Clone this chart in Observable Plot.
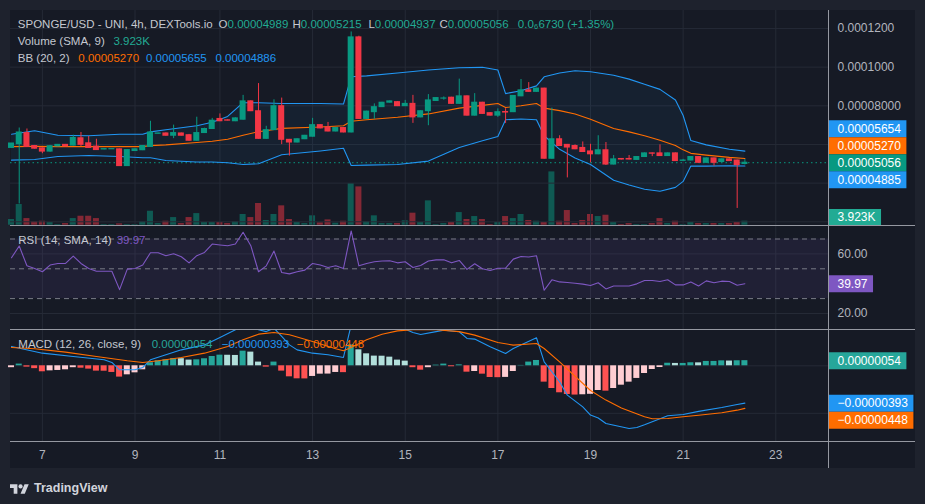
<!DOCTYPE html>
<html><head><meta charset="utf-8">
<script src="https://cdn.jsdelivr.net/npm/d3@7"></script>
<script src="https://cdn.jsdelivr.net/npm/@observablehq/plot@0.6"></script>
<style>
html,body{margin:0;padding:0;background:#1e222d;}
#wrap{position:relative;width:925px;height:504px;background:#1e222d;overflow:hidden;font-family:"Liberation Sans",Arial,sans-serif;}
#chart{position:absolute;left:10px;top:10px;width:905px;height:458px;background:#161a25;}
.sep{position:absolute;left:0;width:905px;height:1px;background:#9598a1;}
.vsep{position:absolute;left:818px;top:0;width:1px;height:458px;background:#9598a1;}
.leg{position:absolute;font-size:11.5px;line-height:17px;white-space:nowrap;color:#c5c8d0;}
#brand{position:absolute;left:10px;top:481px;display:flex;align-items:center;gap:5px;color:#d1d4dc;font-size:12.5px;font-weight:bold;}
</style></head>
<body><div id="wrap"><div id="chart"></div>
<div id="brand"><svg width="19" height="13" viewBox="0 0 36 24"><path d="M14 22H7V11H0V4h14v18zM28 22h-8l7.5-18h8L28 22z" fill="#d1d4dc"/><circle cx="20" cy="8" r="4" fill="#d1d4dc"/></svg><span>TradingView</span></div>
</div>
<script>
// ---------- DATA (prices in units of 1e-5 USD, MACD in 1e-6, volume in K) ----------
const open = [5.82,6.01,6.59,5.92,5.80,5.63,5.90,5.98,5.94,6.32, 6.06,5.89,5.74,5.75,5.75,4.88,5.66,5.70,5.87,6.55, 6.57,6.45,6.57,6.48,6.19,6.59,6.80,7.32,7.25,7.20, 7.28,8.23,7.72,6.29,6.74,7.98,6.24,6.10,6.27,6.40, 7.00,6.88,6.67,6.85,6.62,11.54,7.32,7.67,7.93,8.16, 8.19,7.98,8.10,7.40,7.72,8.25,8.37,8.42,8.10,8.49, 7.49,8.16,7.62,7.49,7.68,7.67,8.49,8.80,8.72,8.89, 5.26,6.27,5.98,5.92,5.82,5.64,5.49,5.70,4.96,5.25, 5.25,5.20,5.35,5.54,5.54,5.40,5.54,5.15,5.17,5.35, 5.05,5.28,5.09,5.23,5.17,4.989];
const high = [6.05,6.85,6.80,5.95,5.82,5.95,6.00,6.00,6.48,6.62, 6.41,6.27,5.77,5.77,5.76,5.73,5.77,5.94,7.20,6.58, 6.60,7.00,6.59,6.52,7.41,6.84,7.35,7.58,7.28,7.38, 8.54,8.26,9.15,6.94,8.31,8.40,6.26,6.29,6.47,7.35, 7.02,7.14,6.87,6.87,11.82,11.60,7.72,8.10,8.18,8.25, 8.21,8.28,8.54,7.74,8.58,8.42,8.46,8.44,9.38,8.51, 8.63,8.18,7.64,7.84,7.85,8.53,9.36,9.20,8.91,8.91, 7.88,6.45,6.00,5.98,6.13,6.01,6.45,6.10,5.43,5.27, 5.43,5.37,5.56,5.56,5.98,5.56,5.56,5.23,5.37,5.37, 5.30,5.30,5.25,5.25,5.19,5.215];
const low = [5.80,2.92,5.85,5.76,5.52,5.60,5.88,5.88,5.92,5.89, 5.80,5.70,5.72,5.74,4.86,4.86,5.64,5.68,5.85,6.54, 6.43,6.30,6.44,6.17,6.17,6.57,6.78,7.18,7.22,7.18, 7.26,7.70,6.27,6.27,6.72,5.99,5.40,6.08,6.25,6.38, 6.81,6.65,6.65,6.60,6.60,7.30,7.30,7.30,7.91,8.14, 7.96,7.96,7.09,7.38,6.97,8.23,8.29,8.08,8.08,7.47, 7.47,7.56,7.47,7.40,7.09,7.65,8.47,8.70,8.70,5.24, 5.24,5.90,4.27,5.73,5.59,5.05,5.47,4.91,4.94,5.20, 5.20,5.18,5.33,5.37,5.38,5.38,5.12,5.13,5.15,5.03, 5.03,4.88,5.07,5.12,2.69,4.937];
const close = [6.05,6.62,5.87,5.78,5.63,5.91,5.98,5.90,6.34,5.98, 5.82,5.71,5.76,5.76,4.88,5.71,5.75,5.92,6.62,6.57, 6.45,6.59,6.45,6.19,6.59,6.80,7.23,7.20,7.23,7.35, 8.23,7.72,6.29,6.74,7.98,6.24,6.10,6.27,6.45,7.00, 6.83,6.67,6.85,6.62,11.54,7.32,7.70,7.93,8.16,8.23, 7.98,8.10,7.40,7.72,8.28,8.40,8.38,8.10,8.49,7.49, 8.16,7.58,7.49,7.67,7.65,8.51,8.80,8.72,8.89,5.26, 6.27,5.92,5.84,5.75,5.61,5.49,5.70,4.96,5.23,5.22, 5.22,5.35,5.54,5.52,5.40,5.54,5.14,5.17,5.35,5.05, 5.28,5.05,5.23,5.14,4.93,5.056];
const volumeK = [5.6,20.3,6.5,3.3,3.9,2.6,0.7,1.6,6.5,8.8, 8.8,6.5,0.7,0.7,1.3,0.7,0.7,3.3,13.7,1.6, 3.9,7.5,1.6,7.5,11.4,2.6,2.6,2.6,1.6,3.3, 10.5,7.5,21.3,4.6,10.5,19.0,5.6,2.6,1.6,9.2, 2.3,5.2,2.0,3.9,40.9,37.6,3.3,9.2,1.6,1.6, 1.6,4.3,11.8,2.6,23.9,0.7,1.6,2.6,12.4,5.6, 8.5,5.6,0.7,2.6,8.5,6.5,10.5,4.6,3.9,2.6, 52.3,3.9,14.4,1.6,4.6,10.5,8.5,9.8,2.6,0.7, 1.6,0.7,0.7,1.6,6.5,1.6,3.9,0.7,2.6,1.6, 1.6,1.6,1.6,1.6,2.6,3.923];
const bbIdx = [0,3,6,10,14,17,18,20,24,26, 28,30,32,35,40,43,44,46,50,54, 58,61,63,64,66,68,69,71,73,75, 78,80,82,84,86,87,88,90,93,95];
const bbUpper = [6.53,6.71,6.48,6.45,6.53,6.53,6.65,6.76,6.97,7.15, 7.45,8.16,8.16,8.12,8.12,8.09,9.5,9.55,9.7,9.85, 9.97,9.99,9.85,8.63,8.78,9.03,9.5,9.7,9.81,9.76, 9.58,9.38,9.12,8.85,8.3,7.5,6.2,5.98,5.75,5.655];
const bbBasis = [5.89,5.9,5.89,5.89,5.89,5.89,5.94,5.98,6.1,6.17, 6.27,6.48,6.66,6.83,6.9,6.97,7.2,7.28,7.41,7.58, 7.88,8.02,8.12,7.91,8.0,8.12,7.88,7.75,7.58,7.3, 6.83,6.65,6.45,6.22,5.95,5.72,5.54,5.45,5.33,5.27];
const bbLower = [5.19,5.22,5.38,5.43,5.38,5.31,5.31,5.17,5.09,5.09, 5.05,4.96,5.0,5.47,5.66,5.8,4.91,4.93,4.96,5.14, 5.84,6.19,6.41,7.28,7.32,7.28,6.45,5.75,5.3,4.96, 4.15,3.9,3.68,3.58,3.78,4.09,4.88,4.88,4.9,4.886];
const rsi = [57.4,65.3,52.0,50.2,48.0,52.5,53.6,53.6,58.5,53.6, 50.2,48.4,48.4,48.4,36.0,49.8,50.2,52.5,60.8,60.8, 58.8,60.1,58.1,54.0,58.8,61.0,66.6,66.0,65.5,66.6, 74.5,65.5,48.0,52.0,61.9,47.5,46.6,48.0,49.1,53.6, 52.5,50.9,52.0,50.2,75.4,52.0,53.6,54.7,55.2,55.4, 54.0,54.7,50.9,52.2,55.2,56.0,56.0,54.0,55.6,49.6, 53.4,50.0,48.9,50.4,50.4,56.5,58.3,57.9,58.8,35.6, 42.6,41.2,40.8,40.3,39.7,38.8,40.6,36.5,38.5,38.5, 38.5,39.9,42.1,42.1,41.5,42.6,39.2,39.2,41.2,38.5, 41.9,40.6,41.7,41.5,39.0,39.97];
const macdIdx = [0,4,8,12,13,14,16,17,18,20, 22,25,27,29,30,31,32,33,34,35, 36,37,39,41,43,44,45,47,50,52, 53,55,56,58,59,60,62,64,65,68, 69,71,72,74,75,76,77,80,81,82, 85,87,89,92,94,95];
const macdLine = [2.04,1.33,0.98,0.63,0.35,-0.42,-0.42,-0.18,0.63,1.16, 1.68,2.2,2.98,3.79,4.3,4.1,3.79,3.6,3.96,3.09, 2.2,1.68,1.33,1.16,0.88,4.3,5.0,4.8,4.2,3.5, 3.3,3.6,3.75,3.58,2.88,2.81,2.0,1.3,1.82,2.95, 0.42,-1.68,-3.09,-4.32,-5.19,-5.5,-6.07,-6.6,-6.49,-6.2, -5.26,-5.12,-4.8,-4.39,-4.07,-3.93];
const signalIdx = [0,3,7,11,15,17,19,22,25,28, 30,32,34,36,39,42,43,44,46,48, 50,52,55,58,60,63,65,68,69,71, 73,75,77,79,82,83,85,87,89,92, 94,95];
const signalLine = [1.93,1.79,1.44,0.98,0.53,0.35,0.53,0.88,1.33,2.04, 2.74,3.33,3.5,3.26,2.56,1.79,1.58,1.93,2.74,3.33, 3.68,3.79,3.79,3.6,3.23,2.45,2.18,2.35,1.82,0.42, -1.1,-2.6,-3.61,-4.45,-5.37,-5.58,-5.54,-5.37,-5.2,-4.95, -4.67,-4.48];
const histogram = [-0.2,0.18,-0.14,-0.3,-0.63,-0.53,-0.49,-0.42,-0.2,-0.25, -0.35,-0.56,-0.57,-0.7,-1.19,-0.95,-0.74,-0.42,0.32,0.53, 0.63,0.77,0.75,0.6,0.63,0.74,0.98,1.12,1.11,1.09, 1.54,1.44,0.39,-0.14,0.39,-0.56,-1.16,-1.37,-1.38,-1.12, -0.88,-0.87,-0.7,-0.72,2.2,1.68,1.26,1.02,1.01,0.91, 0.6,0.49,-0.2,-0.46,-0.2,0.07,0.18,-0.1,0.1,-0.67, -0.6,-0.88,-1.23,-1.25,-1.22,-0.6,0.04,0.39,0.56,-1.72, -2.39,-2.84,-3.02,-3.08,-3.05,-3.0,-2.6,-2.67,-2.39,-2.04, -1.72,-1.33,-0.81,-0.39,-0.18,0.27,0.25,0.25,0.32,0.31, 0.46,0.46,0.52,0.50,0.53,0.54];
const dayTickBars = [4,16,27,39,51,63,75,87,99];
const dayTickLabels = ["7","9","11","13","15","17","19","21","23"];
const priceTicks = [2,4,6,8,10,12];
const priceTickLabels = ["0.00002000","0.00004000","0.00006000","0.00008000","0.0001000","0.0001200"];
const rsiTicks = [60,20];
const rsiLevels = [70,50,30];
const rsiBand = [30,70];
const macdGrid = [0,-5];
const titleText = "SPONGE/USD - UNI, 4h, DEXTools.io";
const changeText = "0.0\u20866730 (+1.35%)";
const bbLegend = ["0.00005270","0.00005655","0.00004886"];
const bbAxis = ["0.00005654","0.00005270","0.00004885"];

// ---------- STYLE / GEOMETRY ----------
const E5 = 1e-5, E6 = 1e-6;
const FONT = '"Liberation Sans", Arial, sans-serif';
const UP = "#089981", DN = "#f23645", BLUE = "#2196f3", ORANGE = "#ff6d00", PURPLE = "#7e57c2";
const GRID = "#252a36", AXTXT = "#b2b5be", LEGTXT = "#c5c8d0", UPTXT = "#22ab94";
const BAR = 7.72, X0 = 1, PLOT_W = 818, FULL_W = 905;
const xDomain = [-X0 / BAR, (PLOT_W - X0) / BAR];
const H_MAIN = 215, H_RSI = 103, H_MACD = 111, H_TIME = 26;
const T_MAIN = 0, T_RSI = 216, T_MACD = 320, T_TIME = 432;
function dom(ref, refPx, ppu, h, unit) { return [(ref - (h - refPx) / ppu) * unit, (ref + refPx / ppu) * unit]; }
const mainDom = dom(8, 95.3, 19.33, H_MAIN, E5);
const volDom = dom(0, 214.7, 1.019, H_MAIN, 1);
const rsiDom = dom(50, 42.3, 1.49, H_RSI, 1);
const macdDom = dom(0, 35.3, 9.5, H_MACD, E6);

const chart = document.getElementById("chart");
const ctx = document.createElement("canvas").getContext("2d");
ctx.font = "12px " + FONT;
const measure = t => ctx.measureText(t).width;

function plot(h, ydom, marks) {
  return Plot.plot({
    width: FULL_W, height: h, marginTop: 0, marginBottom: 0, marginLeft: 0, marginRight: FULL_W - PLOT_W,
    x: {domain: xDomain, axis: null}, y: {domain: ydom, axis: null}, color: {type: "identity"},
    style: {background: "transparent", overflow: "visible", fontFamily: FONT, fontSize: "12px"},
    marks
  });
}
function place(el, top) { el.style.position = "absolute"; el.style.left = "0px"; el.style.top = top + "px"; chart.appendChild(el); }
function yScale(d, h) { return Plot.scale({y: {domain: d, range: [h, 0]}}); }
function stack(items, ys, anchor, h) {
  items.forEach(d => d.px = ys.apply(d.value));
  const a = items[anchor];
  let prev = a.px;
  items.filter(d => d !== a && d.px <= a.px).sort((p, q) => q.px - p.px).forEach(d => { d.px = Math.min(d.px, prev - 17); prev = d.px; });
  prev = a.px;
  items.filter(d => d !== a && d.px > a.px).sort((p, q) => p.px - q.px).forEach(d => { d.px = Math.max(d.px, prev + 17); prev = d.px; });
  items.forEach(d => { d.px = Math.max(8.5, Math.min(h - 8.5, d.px)); d.y = ys.invert(d.px); d.w = measure(d.text) + 15; });
  return items;
}
function labelMarks(items) {
  return [
    Plot.ruleY(items, {y: "y", x1: d => xDomain[1], x2: d => xDomain[1] + d.w / BAR, stroke: "color", strokeWidth: 17}),
    Plot.text(items, {x: d => xDomain[1], y: "y", text: "text", dx: 9, textAnchor: "start", fill: "#ffffff", fontSize: 12})
  ];
}
function tickText(ticks, labels, ys, avoid) {
  const data = ticks.map((v, k) => ({v, label: labels[k], px: ys.apply(v)}))
    .filter(d => !avoid.some(a => Math.abs(a.px - d.px) < 15));
  return Plot.text(data, {x: d => xDomain[1], y: "v", text: "label", dx: 9, textAnchor: "start", fill: AXTXT, fontSize: 12});
}
const fmtP = v => (v * E5).toFixed(8);
const fmtM = v => (v < 0 ? "\u2212" : "") + Math.abs(v * E6).toFixed(8);

// ---------- TABLES ----------
const candles = open.map((o, i) => ({i, open: o * E5, high: high[i] * E5, low: low[i] * E5, close: close[i] * E5, color: close[i] >= o ? UP : DN}));
const vols = volumeK.map((v, i) => ({i, v, color: close[i] >= open[i] ? "rgba(8,153,129,0.5)" : "rgba(242,54,69,0.5)"}));
const bb = bbIdx.map((i, k) => ({i, up: bbUpper[k] * E5, mid: bbBasis[k] * E5, lo: bbLower[k] * E5}));
const rsiT = rsi.map((v, i) => ({i, v}));
const macdT = macdIdx.map((i, k) => ({i, v: macdLine[k] * E6}));
const sigT = signalIdx.map((i, k) => ({i, v: signalLine[k] * E6}));
const histT = histogram.map((v, i) => {
  const p = i ? histogram[i - 1] : v;
  return {i, v: v * E6, color: v >= 0 ? (v >= p ? "#26a69a" : "#b2dfdb") : (v < p ? "#ff5252" : "#ffcdd2")};
});
const dayTicks = dayTickBars.map((b, k) => ({b, label: dayTickLabels[k]}));
const last = open.length - 1;

// ---------- VOLUME (overlay, behind main) ----------
const volYS = yScale(volDom, H_MAIN);
place(plot(H_MAIN, volDom, [
  Plot.rect(vols, {x1: d => d.i - 0.39, x2: d => d.i + 0.39, y1: d => 0, y2: "v", fill: "color"})
]), T_MAIN);

// ---------- MAIN ----------
const mainYS = yScale(mainDom, H_MAIN);
const mainLabels = stack([
  {value: bbUpper[bbUpper.length - 1] * E5, text: bbAxis[0], color: BLUE},
  {value: bbBasis[bbBasis.length - 1] * E5, text: bbAxis[1], color: ORANGE},
  {value: close[last] * E5, text: fmtP(close[last]), color: UP},
  {value: bbLower[bbLower.length - 1] * E5, text: bbAxis[2], color: BLUE}
], mainYS, 2, H_MAIN);
const volLabel = {text: volumeK[last].toFixed(3) + "K", color: "#22ab94"};
volLabel.px = Math.min(volYS.apply(volumeK[last]), H_MAIN - 8);
volLabel.y = mainYS.invert(volLabel.px);
volLabel.w = measure(volLabel.text) + 15;
place(plot(H_MAIN, mainDom, [
  Plot.ruleX(dayTicks, {x: "b", stroke: GRID}),
  Plot.ruleY(priceTicks.map(v => v * E5), {stroke: GRID}),
  Plot.areaY(bb, {x: "i", y1: "lo", y2: "up", fill: BLUE, fillOpacity: 0.06}),
  Plot.ruleY([close[last] * E5], {stroke: UP, strokeDasharray: "1.5,3"}),
  Plot.line(bb, {x: "i", y: "up", stroke: BLUE, strokeWidth: 1.1}),
  Plot.line(bb, {x: "i", y: "lo", stroke: BLUE, strokeWidth: 1.1}),
  Plot.line(bb, {x: "i", y: "mid", stroke: ORANGE, strokeWidth: 1.1}),
  Plot.ruleX(candles, {x: "i", y1: "low", y2: "high", stroke: "color"}),
  Plot.rect(candles, {x1: d => d.i - 0.39, x2: d => d.i + 0.39, y1: "open", y2: "close", fill: "color", insetTop: -0.5, insetBottom: -0.5}),
  tickText(priceTicks.map(v => v * E5), priceTickLabels, mainYS, [...mainLabels, volLabel]),
  ...labelMarks(mainLabels),
  ...labelMarks([volLabel])
]), T_MAIN);

// ---------- RSI ----------
const rsiYS = yScale(rsiDom, H_RSI);
const rsiLabels = stack([{value: rsi[last], text: rsi[last].toFixed(2), color: PURPLE}], rsiYS, 0, H_RSI);
place(plot(H_RSI, rsiDom, [
  Plot.ruleX(dayTicks, {x: "b", stroke: GRID}),
  Plot.ruleY(rsiTicks, {stroke: GRID}),
  Plot.rect([rsiBand], {x1: d => xDomain[0], x2: d => xDomain[1], y1: d => d[0], y2: d => d[1], fill: PURPLE, fillOpacity: 0.1}),
  Plot.ruleY(rsiLevels, {stroke: "#787b86", strokeDasharray: "5,4"}),
  Plot.line(rsiT, {x: "i", y: "v", stroke: PURPLE, strokeWidth: 1.1}),
  tickText(rsiTicks, rsiTicks.map(v => v.toFixed(2)), rsiYS, rsiLabels),
  ...labelMarks(rsiLabels)
]), T_RSI);

// ---------- MACD ----------
const macdYS = yScale(macdDom, H_MACD);
const macdLabels = stack([
  {value: histogram[last] * E6, text: fmtM(histogram[last]), color: "#26a69a"},
  {value: macdLine[macdLine.length - 1] * E6, text: fmtM(macdLine[macdLine.length - 1]), color: BLUE},
  {value: signalLine[signalLine.length - 1] * E6, text: fmtM(signalLine[signalLine.length - 1]), color: ORANGE}
], macdYS, 0, H_MACD);
place(plot(H_MACD, macdDom, [
  Plot.ruleX(dayTicks, {x: "b", stroke: GRID}),
  Plot.ruleY(macdGrid.map(v => v * E6), {stroke: GRID}),
  Plot.rect(histT, {x1: d => d.i - 0.39, x2: d => d.i + 0.39, y1: d => 0, y2: "v", fill: "color"}),
  Plot.line(macdT, {x: "i", y: "v", stroke: BLUE, strokeWidth: 1.1, clip: true}),
  Plot.line(sigT, {x: "i", y: "v", stroke: ORANGE, strokeWidth: 1.1, clip: true}),
  ...labelMarks(macdLabels)
]), T_MACD);

// ---------- TIME AXIS ----------
place(plot(H_TIME, [0, 1], [
  Plot.text(dayTicks, {x: "b", text: "label", frameAnchor: "middle", fill: AXTXT, fontSize: 12})
]), T_TIME);

// ---------- SEPARATORS ----------
[T_RSI - 1, T_MACD - 1, T_TIME - 1].forEach(t => { const d = document.createElement("div"); d.className = "sep"; d.style.top = t + "px"; chart.appendChild(d); });
{ const d = document.createElement("div"); d.className = "vsep"; chart.appendChild(d); }

// ---------- LEGENDS ----------
function legend(top, x, segs) {
  const d = document.createElement("div"); d.className = "leg";
  d.style.top = top + "px"; d.style.left = x + "px";
  segs.forEach(([t, c]) => { const s = document.createElement("span"); s.textContent = t; s.style.color = c; d.appendChild(s); });
  chart.appendChild(d);
}
legend(6.2, 7.8, [[titleText, LEGTXT]]);
legend(6.2, 208.6, [["O", LEGTXT], [fmtP(open[last]), UPTXT]]);
legend(6.2, 282.5, [["H", LEGTXT], [fmtP(high[last]), UPTXT]]);
legend(6.2, 358.4, [["L", LEGTXT], [fmtP(low[last]), UPTXT]]);
legend(6.2, 429.5, [["C", LEGTXT], [fmtP(close[last]), UPTXT]]);
legend(6.2, 507.8, [[changeText, UPTXT]]);
legend(22.5, 7.8, [["Volume (SMA, 9)", LEGTXT]]);
legend(22.5, 103.4, [[volumeK[last].toFixed(3) + "K", UPTXT]]);
legend(40.2, 7.8, [["BB (20, 2)", LEGTXT]]);
legend(40.2, 68.3, [[bbLegend[0], ORANGE]]);
legend(40.2, 136, [[bbLegend[1], BLUE]]);
legend(40.2, 205.4, [[bbLegend[2], BLUE]]);
legend(222.2, 8.3, [["RSI (14, SMA, 14)", LEGTXT]]);
legend(222.2, 106.7, [[rsi[last].toFixed(2), PURPLE]]);
legend(326.2, 8.3, [["MACD (12, 26, close, 9)", LEGTXT]]);
legend(326.2, 141.7, [[fmtM(histogram[last]), "#26a69a"]]);
legend(326.2, 211.7, [[fmtM(macdLine[macdLine.length - 1]), BLUE]]);
legend(326.2, 286.7, [[fmtM(signalLine[signalLine.length - 1]), ORANGE]]);
</script>
</body></html>
